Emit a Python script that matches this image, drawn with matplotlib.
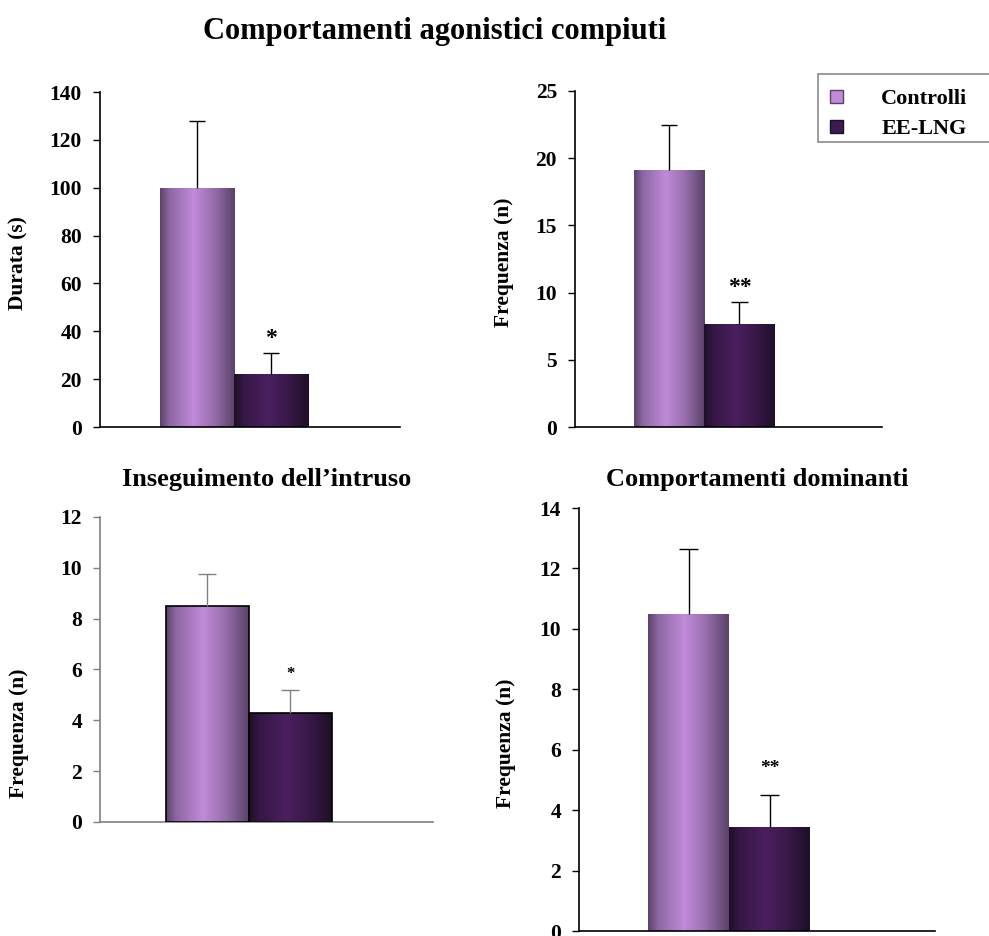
import numpy as np
import matplotlib
matplotlib.use("Agg")
import matplotlib.pyplot as plt
from matplotlib.patches import Rectangle
from matplotlib.colors import to_rgb

plt.rcParams['font.family'] = ['Liberation Serif', 'DejaVu Serif']
plt.rcParams['font.weight'] = 'bold'

# data
groups = ["Controlli", "EE-LNG"]
durata = [100, 22]
durata_err = [28, 9]
freq_agon = [19.1, 7.7]
freq_agon_err = [3.4, 1.6]
freq_inseg = [8.5, 4.3]
freq_inseg_err = [1.25, 0.9]
freq_domin = [10.5, 3.45]
freq_domin_err = [2.15, 1.05]

stars_1 = "*"
stars_2 = "**"
stars_3 = "*"
stars_4 = "**"

edge_cols = ["#5a4269", "#1e0f28"]
mid_cols = ["#c08bd9", "#4b1f60"]


def grad_img(c_edge, c_mid, n=200):
    t = np.linspace(0, 1, n)
    f = np.interp(t, [0, 0.12, 0.45, 0.72, 1], [0.0, 0.5, 1.0, 0.6, 0.0])
    a = np.array(to_rgb(c_edge))
    b = np.array(to_rgb(c_mid))
    row = a[None, :] + f[:, None] * (b - a)[None, :]
    return row[None, :, :]


def panel(rect, vals, errs, lefts, width, ymax, step, ylabel, stars, star_size,
          lab_xy, axcol='k', bar_edge='none', xmax=1.0, star_off=0.0):
    ax = fig.add_axes(rect)
    bars = ax.bar(lefts, vals, width, align='edge', color='none',
                  edgecolor=bar_edge, linewidth=1.2, zorder=3)
    for i, b in enumerate(bars):
        x0 = b.get_x()
        im = ax.imshow(grad_img(edge_cols[i], mid_cols[i]),
                       extent=[x0, x0 + width, 0, vals[i]],
                       aspect='auto', zorder=2, interpolation='bilinear')
        im.set_clip_path(b)
    # upper error bars only
    cap = 0.027
    for i in range(len(vals)):
        xc = lefts[i] + width / 2
        top = vals[i] + errs[i]
        ax.vlines(xc, vals[i], top, color=axcol, lw=1, zorder=4)
        ax.hlines(top, xc - cap, xc + cap, color=axcol, lw=1, zorder=4)
    ax.text(lefts[1] + width / 2, vals[1] + errs[1] + star_off, stars,
            ha='center', va='bottom', fontsize=star_size, fontweight='bold')
    ax.set_xlim(0, xmax)
    ax.set_ylim(0, ymax)
    ax.set_yticks(np.arange(0, ymax + 0.01, step))
    ax.set_xticks([])
    for s in ['top', 'right']:
        ax.spines[s].set_visible(False)
    for s in ['left', 'bottom']:
        ax.spines[s].set_color(axcol)
        ax.spines[s].set_linewidth(1.2)
    ax.tick_params(axis='y', direction='out', length=5, width=1, color=axcol,
                   labelsize=15.5, pad=8)
    for lab in ax.get_yticklabels():
        lab.set_fontweight('bold')
    ax.set_ylabel(ylabel, fontsize=15.5, fontweight='bold')
    ax.yaxis.set_label_coords(*lab_xy)
    return ax


fig = plt.figure(figsize=(9.89, 9.36), dpi=100)

panel([0.1011, 0.5438, 0.3033, 0.3579], durata, durata_err,
      [0.2, 0.447], 0.2467, 140, 20, "Durata (s)", stars_1, 17,
      (-0.237, 0.49), star_off=1.5)
ax2 = panel([0.5814, 0.5438, 0.3104, 0.359], freq_agon, freq_agon_err,
            [0.192, 0.421], 0.229, 25, 5, "Frequenza (n)", stars_2, 17,
            (-0.199, 0.49), star_off=0.3)
ax3 = panel([0.1011, 0.1218, 0.3367, 0.3259], freq_inseg, freq_inseg_err,
            [0.198, 0.447], 0.249, 12, 2, "Frequenza (n)", stars_3, 12,
            (-0.213, 0.29), axcol='#808080', bar_edge='k', star_off=0.3)
ax3.set_title("Inseguimento dell\u2019intruso", fontsize=19, fontweight='bold',
              pad=22)
ax4 = panel([0.5854, 0.0053, 0.36, 0.4519], freq_domin, freq_domin_err,
            [0.194, 0.4215], 0.2275, 14, 2, "Frequenza (n)", stars_4, 14,
            (-0.177, 0.444), star_off=0.6)
ax4.set_title("Comportamenti dominanti", fontsize=19, fontweight='bold', pad=16)

fig.text(0.44, 0.966, "Comportamenti agonistici compiuti", ha='center',
         va='center', fontsize=22, fontweight='bold')

# legend box (cut by the right edge as in the original)
W, H = 989.0, 936.0
fig.patches.append(Rectangle((818 / W, 1 - 142 / H), 180 / W, 68 / H,
                             transform=fig.transFigure, facecolor='white',
                             edgecolor='#8a8a8a', linewidth=1.2))
for i, (g, yc) in enumerate(zip(groups, [96.5, 126.5])):
    fig.patches.append(Rectangle((830 / W, 1 - (yc + 6.5) / H), 13 / W, 13 / H,
                                 transform=fig.transFigure,
                                 facecolor=mid_cols[i] if i == 0 else "#3d1a4f",
                                 edgecolor=edge_cols[i], linewidth=1))
    fig.text(924 / W, 1 - (yc + 2) / H, g, ha='center', va='center',
             fontsize=16, fontweight='bold')

fig.savefig("out.png", dpi=100)
